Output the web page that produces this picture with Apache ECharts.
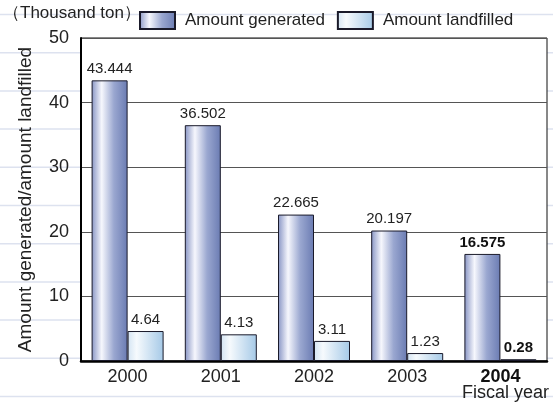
<!DOCTYPE html>
<html>
<head>
<meta charset="utf-8">
<script src="https://cdn.jsdelivr.net/npm/echarts@6/dist/echarts.min.js"></script>
<style>
  html, body { margin: 0; padding: 0; background: #fff; }
  #chart { width: 553px; height: 408px; }
</style>
</head>
<body>
<div id="chart"></div>
<script>
// Fiscal years on the x axis
const years = ['2000', '2001', '2002', '2003', '2004'];
// Thousand tons
const amountGenerated = [43.444, 36.502, 22.665, 20.197, 16.575];
const amountLandfilled = [4.64, 4.13, 3.11, 1.23, 0.28];
const generatedLabels = ['43.444', '36.502', '22.665', '20.197', '16.575'];
const landfilledLabels = ['4.64', '4.13', '3.11', '1.23', '0.28'];
const yTicks = [0, 10, 20, 30, 40, 50];
const highlightYear = '2004';

const FONT = '"Liberation Sans", Arial, Helvetica, sans-serif';

const chart = echarts.init(document.getElementById('chart'), null, { renderer: 'canvas' });

// Ruled background lines behind the chart
const ruled = [];
for (let i = 0; i < 11; i++) {
  const y = 14.5 + i * 38.2;
  ruled.push({
    type: 'line', z: -10, silent: true,
    shape: { x1: 0, y1: y, x2: 553, y2: y },
    style: { stroke: '#dde2ef', lineWidth: 1.5 }
  });
}

const genColor = new echarts.graphic.LinearGradient(0, 0, 1, 0, [
  { offset: 0, color: '#8794c4' },
  { offset: 0.28, color: '#f6f7fd' },
  { offset: 0.62, color: '#9aa7d0' },
  { offset: 1, color: '#6a7bb2' }
]);
const landColor = new echarts.graphic.LinearGradient(0, 0, 1, 0, [
  { offset: 0, color: '#d3e4f3' },
  { offset: 0.25, color: '#f6fafd' },
  { offset: 1, color: '#a5c9e7' }
]);

function labelFor(texts) {
  return {
    show: true, position: 'top', distance: 4,
    fontFamily: FONT, fontSize: 15, color: '#222',
    formatter: p => years[p.dataIndex] === highlightYear
      ? '{b|' + texts[p.dataIndex] + '}'
      : texts[p.dataIndex],
    rich: { b: { fontFamily: FONT, fontSize: 15, fontWeight: 'bold', color: '#111' } }
  };
}

chart.setOption({
  backgroundColor: '#fff',
  animation: false,
  graphic: ruled.concat([
    {
      type: 'text', left: 3, top: 5, z: 10,
      style: { text: '（Thousand ton）', font: '17px ' + FONT, fill: '#222' }
    },
    {
      type: 'text', right: 4, top: 384, z: 10,
      style: { text: 'Fiscal year', font: '18px ' + FONT, fill: '#222' }
    }
  ]),
  legend: {
    left: 134, top: 6,
    icon: 'rect',
    itemWidth: 35, itemHeight: 17, itemGap: 12,
    textStyle: { fontFamily: FONT, fontSize: 17, color: '#222', padding: [0, 0, 0, 5] },
    data: ['Amount generated', 'Amount landfilled']
  },
  grid: {
    left: 81, right: 6, top: 38, bottom: 47,
    show: true, backgroundColor: '#fff', borderColor: '#111', borderWidth: 1
  },
  xAxis: {
    type: 'category',
    data: years,
    axisLine: { show: true, lineStyle: { color: '#000', width: 2.5 } },
    axisTick: { show: false },
    axisLabel: {
      margin: 7,
      fontFamily: FONT, fontSize: 18, color: '#222',
      formatter: v => v === highlightYear ? '{b|' + v + '}' : v,
      rich: { b: { fontFamily: FONT, fontSize: 18, fontWeight: 'bold', color: '#111' } }
    }
  },
  yAxis: {
    type: 'value',
    min: yTicks[0], max: yTicks[yTicks.length - 1], interval: 10,
    name: 'Amount generated/amount landfilled',
    nameLocation: 'middle',
    nameGap: 46,
    nameTextStyle: { fontFamily: FONT, fontSize: 19, color: '#222' },
    axisLine: { show: true, lineStyle: { color: '#000', width: 2 } },
    axisTick: { show: false },
    axisLabel: { margin: 12, fontFamily: FONT, fontSize: 18, color: '#222' },
    splitLine: { show: true, lineStyle: { color: '#555', width: 1 } }
  },
  series: [
    {
      name: 'Amount generated',
      type: 'bar',
      data: amountGenerated,
      barWidth: 36,
      barGap: '0%',
      itemStyle: { color: genColor, borderColor: '#1a1a2a', borderWidth: 1 },
      label: labelFor(generatedLabels)
    },
    {
      name: 'Amount landfilled',
      type: 'bar',
      data: amountLandfilled,
      barWidth: 36,
      itemStyle: { color: landColor, borderColor: '#1a1a2a', borderWidth: 1 },
      label: labelFor(landfilledLabels)
    }
  ]
});
</script>
</body>
</html>
